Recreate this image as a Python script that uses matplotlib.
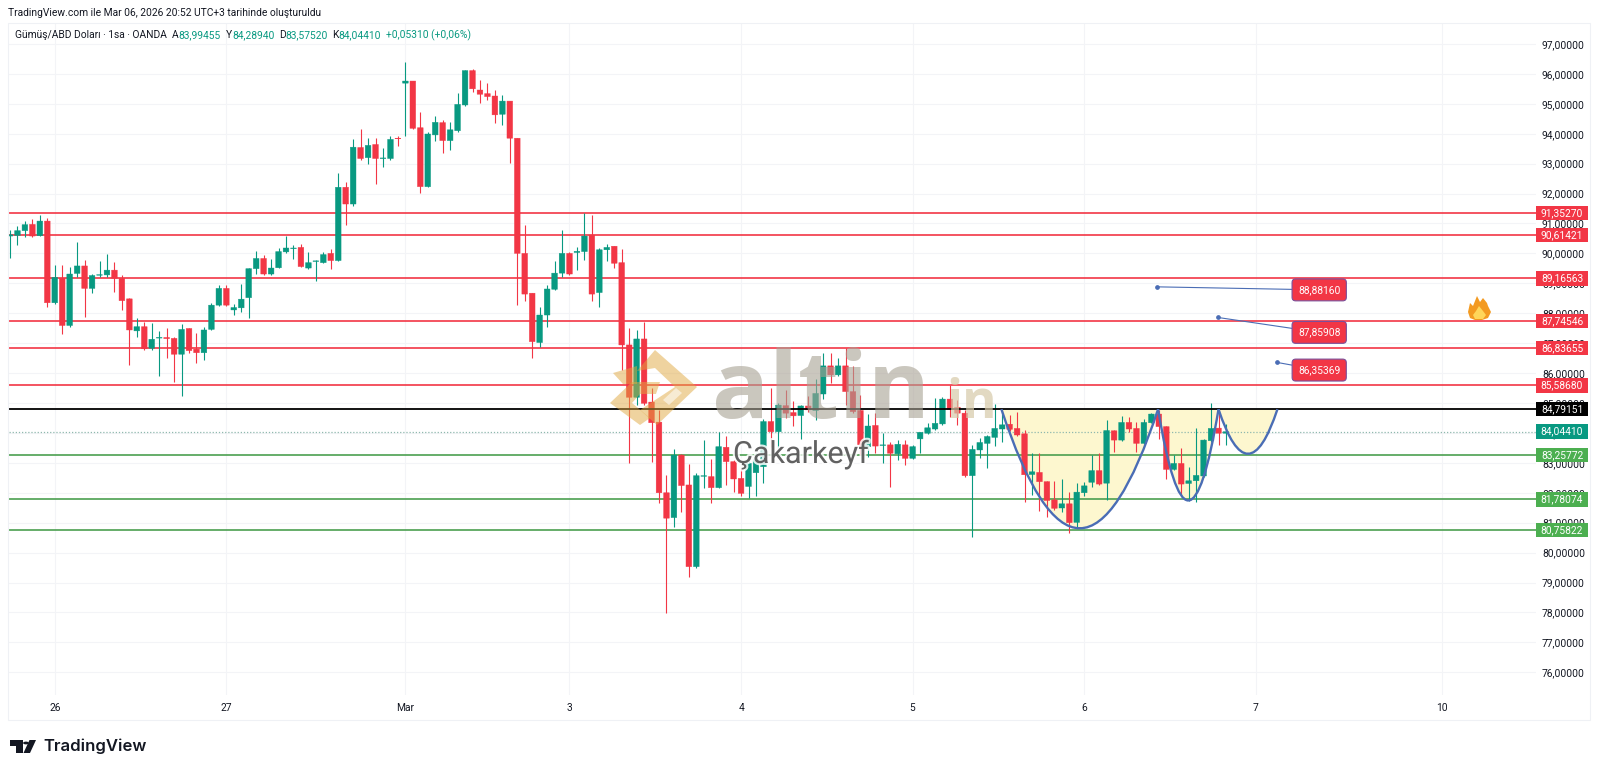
import matplotlib
matplotlib.use("Agg")
import matplotlib.pyplot as plt
import matplotlib.patheffects as pe
from matplotlib.patches import Polygon, Rectangle, Circle, PathPatch
from matplotlib.path import Path

plt.rcParams["font.family"] = ["Roboto", "DejaVu Sans"]

# -----------------------------
# Candle data (1h silver, OANDA)
# -----------------------------
opens = [90.58, 90.60, 90.76, 90.97, 90.59, 91.08, 88.35, 89.17, 87.59, 89.33,
         89.58, 88.83, 89.27, 89.28, 89.44, 89.16, 88.48, 87.41, 87.55, 86.83,
         87.17, 87.19, 87.16, 86.63, 87.49, 86.80, 86.68, 87.46, 88.27, 88.83,
         88.11, 88.18, 88.52, 89.49, 89.83, 89.31, 89.52, 90.05, 90.16, 90.20,
         89.51, 89.73, 89.69, 90.00, 89.76, 92.21, 91.65, 93.54, 93.20, 93.64,
         93.17, 93.17, 93.85, 95.69, 95.76, 94.20, 92.23, 93.96, 94.37, 93.77,
         94.10, 94.96, 96.11, 95.46, 95.34, 95.26, 94.65, 95.09, 93.85, 90.00,
         88.67, 87.02, 87.94, 88.80, 89.34, 90.00, 90.03, 90.06, 90.61, 88.69,
         90.12, 90.24, 89.69, 86.94, 85.19, 87.14, 85.03, 84.36, 82.00, 81.17,
         83.26, 82.26, 79.53, 82.55, 82.54, 82.17, 83.52, 83.04, 82.48, 82.21,
         82.67, 82.87, 84.38, 84.04, 84.91, 84.68, 84.58, 84.90, 84.75, 85.30,
         86.24, 85.94, 86.24, 85.38, 84.75, 83.54, 84.25, 83.58, 83.60, 83.30,
         83.60, 83.15, 83.80, 83.99, 84.13, 84.30, 85.13, 84.86, 84.66, 82.57,
         83.43, 83.65, 83.85, 84.13, 84.29, 84.15, 83.97, 82.61, 82.68, 82.37,
         81.76, 81.49, 81.63, 81.01, 82.00, 82.35, 82.74, 82.32, 84.07, 83.76,
         84.35, 84.15, 83.65, 84.34, 84.63, 84.21, 82.78, 82.98, 82.31, 82.40,
         82.56, 83.74, 84.16, 83.99]
highs = [90.79, 90.92, 91.07, 91.16, 91.28, 91.17, 89.61, 89.61, 89.56, 90.37,
         89.78, 89.30, 89.76, 89.98, 89.72, 89.28, 88.50, 87.83, 87.72, 87.66,
         87.39, 87.50, 87.19, 87.64, 87.50, 87.33, 87.53, 88.35, 88.95, 88.95,
         88.31, 88.98, 89.50, 90.09, 89.95, 89.80, 90.17, 90.58, 90.28, 90.32,
         90.06, 89.78, 90.03, 90.14, 92.70, 92.37, 93.81, 94.15, 93.85, 93.85,
         93.53, 93.92, 93.92, 96.41, 95.77, 94.74, 94.07, 94.59, 94.46, 94.40,
         95.37, 96.13, 96.15, 95.80, 95.69, 95.46, 95.30, 95.10, 93.86, 90.95,
         88.68, 88.22, 88.95, 89.76, 90.78, 90.05, 90.23, 91.34, 91.28, 90.17,
         90.32, 90.25, 90.14, 87.50, 87.44, 87.72, 85.49, 84.75, 82.60, 83.45,
         83.30, 82.96, 82.65, 83.76, 83.12, 84.04, 83.88, 83.10, 82.82, 83.21,
         83.32, 84.47, 85.49, 85.01, 85.44, 85.05, 84.93, 85.24, 85.79, 86.66,
         86.66, 86.49, 86.83, 86.22, 85.27, 84.63, 84.68, 84.01, 83.68, 83.76,
         83.76, 83.60, 84.04, 84.32, 85.16, 85.19, 85.60, 85.10, 84.77, 83.60,
         83.82, 83.93, 84.97, 84.77, 84.60, 84.71, 84.10, 83.32, 83.34, 82.38,
         82.39, 82.45, 82.04, 82.34, 82.37, 83.26, 83.32, 84.43, 84.10, 84.57,
         84.52, 84.38, 84.46, 84.68, 84.77, 84.22, 83.26, 83.49, 82.85, 84.15,
         83.78, 84.99, 84.77, 84.29]
lows = [89.84, 90.28, 90.54, 90.56, 90.59, 88.20, 88.31, 87.31, 87.55, 89.22,
        87.89, 88.69, 89.22, 89.22, 88.72, 88.11, 86.27, 87.20, 86.77, 86.77,
        85.90, 86.49, 85.69, 85.25, 86.68, 86.35, 86.42, 87.44, 88.24, 88.24,
        87.94, 88.05, 87.83, 89.31, 89.29, 89.29, 89.50, 90.00, 89.80, 89.54,
        89.49, 89.09, 89.67, 89.47, 89.75, 90.95, 91.59, 93.12, 92.99, 92.32,
        92.88, 93.12, 93.59, 93.92, 94.15, 92.01, 92.21, 93.77, 93.37, 93.46,
        94.07, 94.91, 95.38, 95.04, 95.13, 94.35, 94.29, 93.01, 88.28, 88.42,
        86.49, 86.88, 87.53, 88.78, 89.22, 89.28, 89.45, 89.78, 88.42, 88.20,
        89.73, 89.50, 86.10, 82.98, 84.93, 84.93, 83.04, 81.67, 77.97, 80.87,
        81.37, 79.17, 79.50, 82.15, 81.65, 82.15, 82.26, 82.04, 81.90, 81.84,
        81.90, 82.32, 83.54, 83.49, 84.49, 84.23, 83.79, 84.71, 84.43, 85.12,
        85.66, 85.90, 84.93, 84.68, 83.26, 83.21, 83.32, 83.00, 82.20, 83.10,
        82.93, 83.12, 83.32, 83.95, 84.10, 84.28, 84.54, 84.27, 82.53, 80.53,
        83.15, 82.82, 83.56, 83.68, 84.08, 83.90, 81.70, 81.93, 81.40, 81.18,
        81.43, 81.34, 80.67, 80.87, 81.90, 82.18, 82.27, 81.76, 83.37, 83.74,
        84.04, 83.37, 83.62, 84.32, 83.79, 82.45, 82.76, 81.93, 81.74, 81.70,
        82.54, 83.71, 83.60, 83.58]
closes = [90.62, 90.76, 90.96, 90.58, 91.08, 88.35, 89.20, 87.59, 89.31, 89.58,
          88.83, 89.26, 89.29, 89.44, 89.17, 88.42, 87.44, 87.55, 86.81, 87.13,
          87.19, 87.15, 86.63, 87.46, 86.75, 86.68, 87.44, 88.27, 88.83, 88.27,
          88.19, 88.47, 89.49, 89.83, 89.31, 89.51, 90.06, 90.18, 90.18, 89.56,
          89.69, 89.75, 89.96, 89.76, 92.21, 91.65, 93.55, 93.17, 93.61, 93.17,
          93.19, 93.81, 93.83, 95.76, 94.18, 92.23, 93.99, 94.38, 93.77, 94.13,
          94.98, 96.11, 95.50, 95.32, 95.24, 94.63, 95.09, 93.85, 90.00, 88.64,
          87.05, 87.94, 88.81, 89.34, 90.00, 89.31, 90.07, 90.58, 88.64, 90.12,
          90.20, 89.67, 86.94, 85.19, 87.14, 84.99, 84.34, 82.00, 81.15, 83.26,
          82.24, 79.53, 82.57, 82.57, 82.17, 83.54, 83.04, 82.46, 81.98, 82.98,
          83.10, 84.38, 84.04, 84.93, 84.66, 84.57, 84.90, 84.77, 85.32, 86.24,
          85.94, 86.24, 85.38, 84.71, 83.60, 84.23, 83.56, 83.60, 83.32, 83.62,
          83.15, 83.54, 84.02, 84.17, 84.32, 85.13, 84.79, 84.66, 82.57, 83.45,
          83.68, 83.88, 84.15, 84.27, 84.12, 83.93, 82.60, 82.70, 82.37, 81.74,
          81.48, 81.63, 81.00, 82.02, 82.23, 82.74, 82.29, 84.08, 83.76, 84.35,
          84.13, 83.65, 84.35, 84.63, 84.21, 82.78, 82.98, 82.29, 82.40, 82.58,
          83.76, 84.15, 83.99, 84.04]

# Price scale and date axis
price_ticks = list(range(76, 98))
day_ticks = [6, 29, 53, 75, 98, 121, 144, 167, 192]
day_labels = ["26", "27", "Mar", "3", "4", "5", "6", "7", "10"]

# Horizontal levels
red_levels = [91.35270, 90.61421, 89.16563, 87.74546, 86.83655, 85.58680]
green_levels = [83.25772, 81.78074, 80.75822]
black_level = 84.79151
last_price = 84.04410

# Notes: price, anchor bar, label bar, label price
note_prices = [88.88160, 87.85908, 86.35369]
note_bars = [153.8, 161.9, 169.9]
note_box_bars = [175.5, 175.5, 175.5]
note_box_prices = [88.78, 87.36, 86.10]

# Cup curves: start bar, end bar, control price
curve_starts = [132.9, 153.9, 162.0]
curve_ends = [153.9, 162.0, 169.9]
curve_controls = [76.83, 78.69, 81.81]

RED = "#f23645"
GREEN = "#089981"
LINE_GREEN = "#4c9f50"
BLUE = "#4a6db5"
W, H = 1600, 772


def fx(x):
    return x / W


def fy(y):
    return 1 - y / H


def fig_poly(fig, pts, **kw):
    fig.add_artist(Polygon([(fx(x), fy(y)) for x, y in pts], closed=True,
                           transform=fig.transFigure, linewidth=0, **kw))


def fmt(v):
    return f"{v:.5f}".replace(".", ",")


# -----------------------------
# Layout
# -----------------------------
fig = plt.figure(figsize=(16, 7.72), dpi=100, facecolor="white")
ax = fig.add_axes([fx(8.5), fy(695), fx(1536 - 8.5), (695 - 23) / H])
ax.set_xlim(-0.2, 204.56)
ax.set_ylim(75.24, 97.70)

for s in ax.spines.values():
    s.set_visible(False)
ax.set_axisbelow(True)
ax.grid(color="#f3f4f7", linewidth=0.8)
ax.yaxis.tick_right()
ax.set_yticks(price_ticks)
ax.set_yticklabels([fmt(v) for v in price_ticks], fontsize=7.4, color="#131722")
ax.set_xticks(day_ticks)
ax.set_xticklabels(day_labels, fontsize=7.4, color="#131722")
ax.tick_params(axis="y", length=0, pad=4.3)
ax.tick_params(axis="x", length=0, pad=6.0)

fig.add_artist(Rectangle((fx(8), fy(720)), fx(1590 - 8), (720 - 23) / H, fill=False,
                         edgecolor="#eff1f5", linewidth=0.8,
                         transform=fig.transFigure))

# -----------------------------
# Cup pattern fill
# -----------------------------
for x0, x1, ctrl in zip(curve_starts, curve_ends, curve_controls):
    verts = [(x0, black_level), ((x0 + x1) / 2, ctrl), (x1, black_level), (x0, black_level)]
    ax.add_patch(PathPatch(Path(verts, [Path.MOVETO, Path.CURVE3, Path.CURVE3, Path.CLOSEPOLY]),
                           facecolor="#fdf7cf", edgecolor="none", zorder=1))

# -----------------------------
# Levels
# -----------------------------
for lvl in red_levels:
    ax.axhline(lvl, color=RED, linewidth=1.2, zorder=2)
for lvl in green_levels:
    ax.axhline(lvl, color=LINE_GREEN, linewidth=1.2, zorder=2)
ax.axhline(last_price, color="#8fb8ae", linewidth=0.9, linestyle=(0, (1, 1.5)), zorder=2)

# -----------------------------
# Candles
# -----------------------------
bars = list(range(len(opens)))
colors = [GREEN if c >= o else RED for o, c in zip(opens, closes)]
ax.vlines(bars, lows, highs, colors=colors, linewidth=0.8, zorder=3)
ax.bar(bars, [abs(c - o) for o, c in zip(opens, closes)],
       bottom=[min(o, c) for o, c in zip(opens, closes)],
       width=0.76, color=colors, edgecolor=colors, linewidth=0.3, zorder=3.5, snap=False)

ax.axhline(black_level, color="black", linewidth=1.3, zorder=4)

# Cup pattern outline goes over the candles
for x0, x1, ctrl in zip(curve_starts, curve_ends, curve_controls):
    verts = [(x0, black_level), ((x0 + x1) / 2, ctrl), (x1, black_level)]
    ax.add_patch(PathPatch(Path(verts, [Path.MOVETO, Path.CURVE3, Path.CURVE3]),
                           facecolor="none", edgecolor=BLUE, linewidth=1.7, zorder=4.5))

# -----------------------------
# Note callouts
# -----------------------------
ax.plot(note_bars, note_prices, "o", color=BLUE, markersize=2.4, zorder=5)
for p, b, bb, bp in zip(note_prices, note_bars, note_box_bars, note_box_prices):
    ax.annotate(fmt(p), xy=(b, p), xytext=(bb, bp), textcoords="data",
                ha="center", va="center", color="white", fontsize=7.4, zorder=6,
                bbox=dict(boxstyle="round,pad=0.58,rounding_size=0.35", facecolor=RED,
                          edgecolor="#7a4f9a", linewidth=0.8),
                arrowprops=dict(arrowstyle="-", color=BLUE, linewidth=0.8,
                                shrinkA=0, shrinkB=0))

# -----------------------------
# Price scale labels
# -----------------------------
trans = ax.get_yaxis_transform()
scale_w = 52 / (1536 - 8.5)
box_h = 14.4 / 29.92


def price_label(value, color):
    ax.add_patch(Rectangle((1, value - box_h / 2), scale_w, box_h, facecolor=color,
                           edgecolor="none", transform=trans, clip_on=False, zorder=6))
    ax.text(1 + scale_w / 2, value, fmt(value), transform=trans, color="white",
            fontsize=7.4, ha="center", va="center", clip_on=False, zorder=7)


for lvl in red_levels:
    price_label(lvl, RED)
for lvl in green_levels:
    price_label(lvl, "#4caf50")
price_label(black_level, "black")
price_label(last_price, GREEN)

# -----------------------------
# Header text
# -----------------------------
fig.text(fx(8.5), fy(12.5), "TradingView.com ile Mar 06, 2026 20:52 UTC+3 tarihinde oluşturuldu",
         fontsize=7.4, color="#131722", va="center")
fig.text(fx(15), fy(35), "Gümüş/ABD Doları · 1sa · OANDA", fontsize=7.4, color="#131722", va="center")
for lx, vx, lab, val in [(172, 178, "A", "83,99455"), (226, 232, "Y", "84,28940"),
                         (279, 285, "D", "83,57520"), (332, 338, "K", "84,04410")]:
    fig.text(fx(lx), fy(35), lab, fontsize=7.4, color="#131722", va="center")
    fig.text(fx(vx), fy(35), val, fontsize=7.4, color=GREEN, va="center")
fig.text(fx(386), fy(35), "+0,05310 (+0,06%)", fontsize=7.4, color=GREEN, va="center")

# -----------------------------
# Watermark
# -----------------------------
GOLD = dict(facecolor="#e0a840", alpha=0.5, zorder=5)
fig_poly(fig, [(637, 371), (655, 350), (697, 387), (657, 425), (640, 410), (675, 387), (655, 368)], **GOLD)
fig_poly(fig, [(613, 373), (637, 366), (637, 384), (623, 384)], **GOLD)
fig_poly(fig, [(610, 403), (632, 382), (660, 382), (656, 394), (640, 394), (632, 403), (650, 418), (640, 425)], **GOLD)
fig_poly(fig, [(663, 400), (676, 388), (682, 393), (669, 405)], facecolor="white", alpha=0.55, zorder=5)

fig.text(fx(712), fy(418), "altin", fontsize=68, family="Open Sans", fontweight="bold",
         color="#a8a294", alpha=0.6, va="baseline", zorder=5)
fig.text(fx(946), fy(418), "in", fontsize=38, family="Open Sans", fontweight="bold",
         color="#d6c9a8", alpha=0.7, va="baseline", zorder=5)
fig.text(fx(733), fy(463), "Çakarkeyf", fontsize=22, color="#4a4a4a", alpha=0.85,
         va="baseline", zorder=5,
         path_effects=[pe.withStroke(linewidth=3, foreground=(1, 1, 1, 0.45))])

# -----------------------------
# Flame
# -----------------------------
fig_poly(fig, [(1468, 312), (1470, 303), (1473, 306), (1477, 296), (1480, 302), (1483, 298),
               (1487, 303), (1488, 306), (1491, 312), (1488, 318), (1482, 320), (1475, 320), (1470, 318)],
         facecolor="#f39a21", zorder=5)
fig_poly(fig, [(1473, 315), (1476, 311), (1479, 306), (1483, 311), (1486, 315), (1483, 319), (1475, 319)],
         facecolor="#ffd65a", zorder=5)

# -----------------------------
# TradingView logo
# -----------------------------
fig_poly(fig, [(10, 740), (22.5, 740), (22.5, 753), (16, 753), (16, 746), (10, 746)],
         facecolor="#131722", zorder=5)
fig_poly(fig, [(29.5, 740), (36, 740), (30, 753), (23.5, 753)], facecolor="#131722", zorder=5)
fig.add_artist(Circle((fx(26), fy(743)), 2.9 / W, facecolor="#131722", linewidth=0,
                      transform=fig.transFigure, zorder=5))
fig.text(fx(43.5), fy(746.5), "TradingView", fontsize=12, family="Inter", fontweight="semibold",
         color="#131722", va="center")

fig.savefig("out.png", dpi=100)
